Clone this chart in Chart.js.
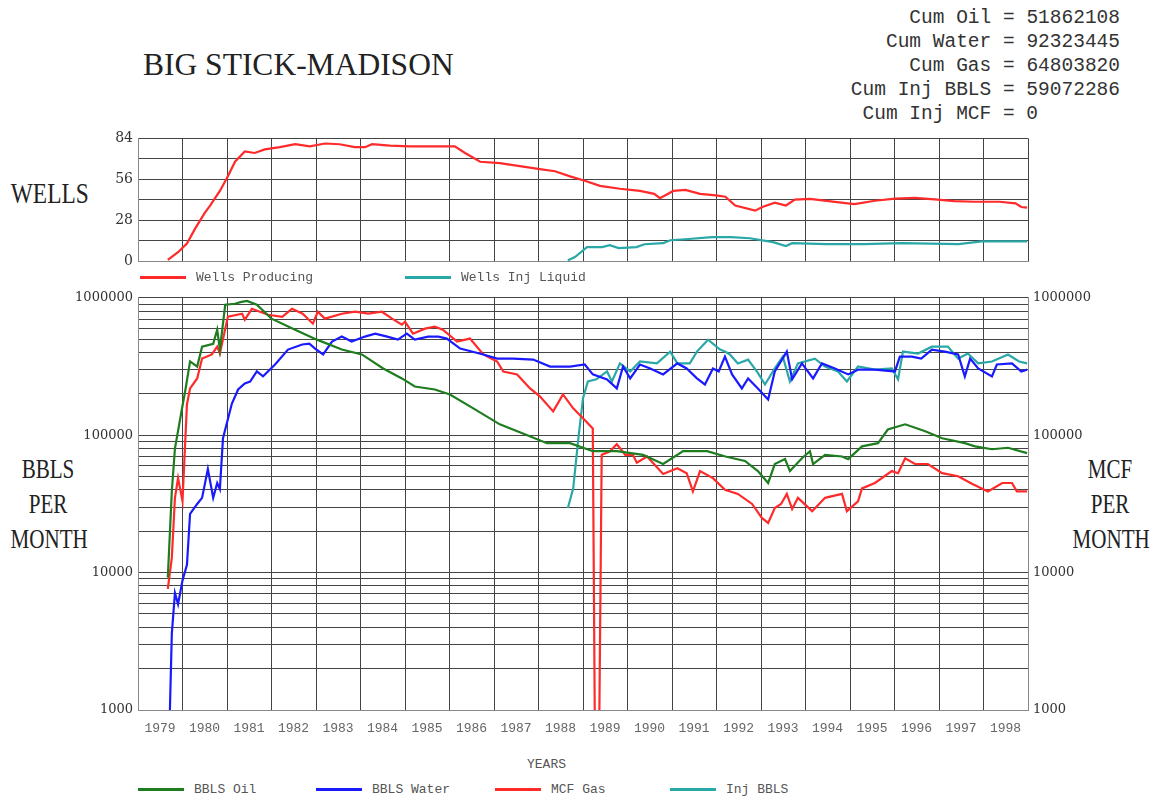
<!DOCTYPE html>
<html>
<head>
<meta charset="utf-8">
<script src="https://cdn.jsdelivr.net/npm/chart.js@4.4.0/dist/chart.umd.min.js"></script>
<style>
  body { margin: 0; background: #fff; width: 1158px; height: 799px; position: relative; overflow: hidden; }
  .t { position: absolute; white-space: pre; color: #222; }
  .serif { font-family: "Liberation Serif", serif; }
  .mono { font-family: "Liberation Mono", monospace; }
  .cond { transform: scaleX(0.78); transform-origin: center; text-align: center; }
  .leg { position: absolute; font-family: "Liberation Mono", monospace; font-size: 13px; color: #555; line-height: 16px; }
  .leg i { display: inline-block; width: 46px; height: 3px; vertical-align: middle; margin-right: 10px; }
  canvas { position: absolute; left: 0; }
</style>
</head>
<body>
<div class="t serif" style="left:143px; top:49px; font-size:31.5px; line-height:31px;">BIG STICK-MADISON</div>
<div class="t mono" style="right:38px; top:6px; font-size:19.5px; line-height:24px; text-align:right; color:#333;">Cum Oil = 51862108
Cum Water = 92323445
Cum Gas = 64803820
Cum Inj BBLS = 59072286
Cum Inj MCF = 0       </div>
<div class="t serif cond" style="left:0px; width:98px; top:178px; font-size:30px; line-height:30px;">WELLS</div>
<div class="t serif cond" style="left:0px; width:96px; top:452px; font-size:27px; line-height:35px;">BBLS
PER
MONTH</div>
<div class="t serif cond" style="left:1062px; width:96px; top:452px; font-size:27px; line-height:35px;">MCF
PER
MONTH</div>

<canvas id="wellsChart" width="1158" height="150" style="top:125px"></canvas>
<canvas id="prodChart" width="1158" height="460" style="top:285px"></canvas>

<div class="leg" style="left:140px; top:270px;"><i style="background:#ff2a2a"></i>Wells Producing</div>
<div class="leg" style="left:405px; top:270px;"><i style="background:#2aa8a8"></i>Wells Inj Liquid</div>
<div class="leg" style="left:527px; top:757px;">YEARS</div>
<div class="leg" style="left:138px; top:782px;"><i style="background:#1e7d1e"></i>BBLS Oil</div>
<div class="leg" style="left:316px; top:782px;"><i style="background:#1a1aff"></i>BBLS Water</div>
<div class="leg" style="left:495px; top:782px;"><i style="background:#ff2a2a"></i>MCF Gas</div>
<div class="leg" style="left:670px; top:782px;"><i style="background:#2aa8a8"></i>Inj BBLS</div>

<script>
// tick labels
const yearLabels = ["1979", "1980", "1981", "1982", "1983", "1984", "1985", "1986", "1987", "1988",
  "1989", "1990", "1991", "1992", "1993", "1994", "1995", "1996", "1997", "1998"];
const wellLabels = [0, 28, 56, 84];
const logLabels = [1000, 10000, 100000, 1000000];

// wells (top panel)
const prodWellsT = [1979.67, 1979.90, 1980.10, 1980.28, 1980.40, 1980.50, 1980.62, 1980.84, 1981.02, 1981.18,
  1981.40, 1981.62, 1981.85, 1982.19, 1982.53, 1982.86, 1983.20, 1983.53, 1983.87, 1984.10,
  1984.26, 1984.66, 1985.11, 1985.56, 1986.12, 1986.35, 1986.69, 1987.13, 1987.58, 1988.03,
  1988.37, 1988.71, 1989.04, 1989.38, 1989.83, 1990.28, 1990.60, 1990.73, 1991.03, 1991.30,
  1991.63, 1991.99, 1992.20, 1992.42, 1992.87, 1993.03, 1993.31, 1993.56, 1993.76, 1994.10,
  1994.66, 1995.10, 1995.56, 1996.01, 1996.46, 1996.90, 1997.35, 1997.81, 1998.36, 1998.72,
  1998.85, 1998.98];
const prodWells = [0.7, 6, 12, 22, 28, 33, 38, 48, 58, 68,
  75, 74, 76.5, 78, 80, 78.5, 80.5, 80, 78, 78,
  80, 79, 78.5, 78.5, 78.5, 74, 68, 67, 65, 63,
  61.5, 58, 55, 51.5, 49.5, 48, 46, 43, 48, 48.7,
  46, 45, 44, 38, 34.5, 37, 40, 38, 42, 42.5,
  40.5, 39, 41.3, 42.7, 43.3, 42.2, 41, 40.6, 40.6, 39.5,
  37, 36.6];
const injWellsT = [1988.66, 1988.82, 1989.09, 1989.43, 1989.60, 1989.80, 1990.20, 1990.38, 1990.80, 1990.96,
  1991.30, 1991.90, 1992.33, 1992.75, 1993.27, 1993.56, 1993.70, 1994.46, 1995.30, 1996.16,
  1997.44, 1997.96, 1998.98];
const injWells = [0.5, 2.7, 9.5, 9.5, 10.8, 8.8, 9.5, 11.5, 12.2, 14.2,
  14.9, 16.3, 16.3, 15.6, 12.9, 10.2, 12.2, 11.5, 11.5, 12.2,
  11.5, 13.5, 13.5];

// monthly volumes (bottom panel)
const oilT = [1979.67, 1979.76, 1979.83, 1979.99, 1980.06, 1980.17, 1980.33, 1980.44, 1980.69, 1980.78,
  1980.84, 1980.96, 1981.18, 1981.30, 1981.45, 1981.67, 1982.00, 1982.53, 1983.02, 1983.58,
  1984.03, 1984.51, 1984.93, 1985.22, 1985.67, 1986.01, 1986.46, 1987.13, 1987.65, 1988.19,
  1988.71, 1989.22, 1989.76, 1990.35, 1990.80, 1991.25, 1991.79, 1992.20, 1992.64, 1992.93,
  1993.16, 1993.31, 1993.54, 1993.65, 1993.92, 1994.10, 1994.17, 1994.44, 1994.82, 1994.96,
  1995.27, 1995.63, 1995.85, 1996.24, 1996.69, 1997.07, 1997.58, 1997.81, 1998.19, 1998.55,
  1998.98];
const oilBbls = [9200, 39000, 80000, 157000, 209000, 344000, 316000, 441000, 463000, 586000,
  420000, 890000, 905000, 930000, 950000, 890000, 705000, 586000, 496000, 420000,
  387000, 306000, 259000, 226000, 215000, 198000, 162000, 120000, 103000, 87500,
  87500, 76500, 76500, 72000, 61700, 76500, 76500, 70000, 65000, 54800,
  44900, 61700, 67000, 54800, 68000, 76500, 61700, 72000, 70000, 67000,
  83000, 87500, 110000, 120000, 107000, 95000, 87500, 83000, 79000, 81000,
  74000];
const waterT = [1979.70, 1979.76, 1979.83, 1979.90, 1980.00, 1980.10, 1980.17, 1980.33, 1980.44, 1980.57,
  1980.69, 1980.78, 1980.84, 1980.91, 1981.11, 1981.25, 1981.40, 1981.52, 1981.67, 1981.81,
  1982.08, 1982.37, 1982.69, 1982.85, 1982.98, 1983.16, 1983.36, 1983.58, 1983.80, 1984.10,
  1984.33, 1984.60, 1984.84, 1985.04, 1985.22, 1985.52, 1985.75, 1985.94, 1986.24, 1986.76,
  1987.07, 1987.43, 1987.88, 1988.26, 1988.71, 1989.04, 1989.22, 1989.54, 1989.76, 1989.90,
  1990.06, 1990.28, 1990.51, 1990.80, 1991.12, 1991.33, 1991.56, 1991.74, 1991.92, 1992.05,
  1992.19, 1992.35, 1992.57, 1992.71, 1992.93, 1993.16, 1993.31, 1993.58, 1993.70, 1993.92,
  1994.17, 1994.37, 1994.66, 1994.96, 1995.18, 1995.56, 1996.01, 1996.12, 1996.39, 1996.60,
  1996.84, 1997.13, 1997.43, 1997.58, 1997.70, 1997.88, 1998.19, 1998.30, 1998.64, 1998.85,
  1998.98];
const waterBbls = [600, 3600, 7100, 5900, 8750, 11400, 26800, 31600, 35000, 56700,
  35000, 44900, 40500, 95000, 170000, 215000, 238000, 246000, 291000, 268000,
  327000, 420000, 457000, 463000, 427000, 387000, 480000, 522000, 480000, 522000,
  548000, 522000, 496000, 548000, 496000, 522000, 522000, 505000, 427000, 387000,
  361000, 361000, 355000, 316000, 316000, 327000, 277000, 255000, 219000, 316000,
  259000, 327000, 306000, 277000, 333000, 306000, 259000, 234000, 306000, 291000,
  373000, 277000, 219000, 259000, 219000, 182000, 291000, 406000, 255000, 333000,
  259000, 333000, 306000, 277000, 300000, 300000, 291000, 373000, 373000, 361000,
  420000, 406000, 387000, 268000, 361000, 306000, 268000, 327000, 333000, 291000,
  300000];
const gasT = [1979.67, 1979.76, 1979.83, 1979.90, 1980.00, 1980.10, 1980.17, 1980.33, 1980.44, 1980.66,
  1980.78, 1980.84, 1981.02, 1981.34, 1981.40, 1981.56, 1981.92, 1982.24, 1982.46, 1982.70,
  1982.93, 1983.04, 1983.20, 1983.58, 1983.88, 1984.17, 1984.48, 1984.71, 1984.93, 1985.00,
  1985.18, 1985.45, 1985.67, 1985.85, 1986.17, 1986.46, 1986.76, 1987.07, 1987.21, 1987.52,
  1987.81, 1988.03, 1988.33, 1988.55, 1988.78, 1989.00, 1989.22, 1989.27, 1989.36, 1989.42,
  1989.60, 1989.76, 1989.95, 1990.12, 1990.21, 1990.44, 1990.80, 1991.12, 1991.33, 1991.47,
  1991.63, 1991.92, 1992.19, 1992.48, 1992.80, 1993.02, 1993.16, 1993.31, 1993.45, 1993.58,
  1993.70, 1993.83, 1994.15, 1994.44, 1994.82, 1994.93, 1995.18, 1995.27, 1995.56, 1995.94,
  1996.08, 1996.24, 1996.46, 1996.75, 1997.07, 1997.43, 1997.74, 1998.10, 1998.42, 1998.64,
  1998.75, 1998.98];
const gasMcf = [7600, 12800, 35000, 48700, 33200, 168000, 219000, 259000, 361000, 387000,
  441000, 393000, 728000, 766000, 693000, 832000, 753000, 728000, 832000, 766000,
  648000, 792000, 705000, 766000, 792000, 766000, 792000, 705000, 637000, 670000,
  548000, 596000, 616000, 586000, 480000, 505000, 387000, 344000, 291000, 277000,
  219000, 192000, 149000, 198000, 157000, 133000, 112000, 500, 500, 72000,
  76000, 86000, 72000, 72000, 63000, 70000, 52200, 57400, 52900, 39000,
  54800, 48700, 40000, 37400, 31600, 25000, 23000, 29500, 31600, 37400,
  29000, 35000, 28000, 35000, 37400, 28000, 33000, 41000, 44900, 54800,
  52900, 68000, 61700, 61700, 52900, 50300, 44300, 39000, 44900, 44900,
  39000, 39000];
const injT = [1988.66, 1988.78, 1988.89, 1989.00, 1989.11, 1989.30, 1989.54, 1989.65, 1989.83, 1990.06,
  1990.28, 1990.66, 1990.96, 1991.12, 1991.40, 1991.56, 1991.81, 1992.08, 1992.19, 1992.30,
  1992.48, 1992.71, 1992.93, 1993.09, 1993.31, 1993.49, 1993.65, 1993.83, 1994.21, 1994.44,
  1994.73, 1994.93, 1995.18, 1995.56, 1995.94, 1996.08, 1996.19, 1996.53, 1996.84, 1997.20,
  1997.43, 1997.65, 1997.88, 1998.19, 1998.55, 1998.80, 1998.98];
const injBbls = [29500, 41000, 91000, 186000, 246000, 255000, 291000, 246000, 333000, 291000,
  344000, 333000, 406000, 333000, 333000, 406000, 496000, 420000, 406000, 387000,
  333000, 355000, 284000, 234000, 306000, 373000, 246000, 333000, 361000, 316000,
  291000, 246000, 316000, 300000, 306000, 255000, 406000, 393000, 441000, 441000,
  361000, 393000, 333000, 344000, 387000, 344000, 333000];

const GRID = "#444";
const RED = "#ff2a2a", GREEN = "#1e7d1e", BLUE = "#1a1aff", TEAL = "#2aa8a8";

const pts = (xs, ys) => xs.map((x, i) => ({ x: x, y: ys[i] }));
const yearStarts = yearLabels.map(Number).concat([Number(yearLabels[yearLabels.length - 1]) + 1]);
let logGrid = [];
for (let d = 1000; d < 1000000; d *= 10) {
  for (let m = 1; m < 10; m++) logGrid.push(m * d);
}
logGrid.push(1000000);

const line = (label, data, color, axis) => ({
  label: label, data: data, borderColor: color, backgroundColor: color,
  borderWidth: 2.2, pointRadius: 0, tension: 0, fill: false, yAxisID: axis || "y"
});

const xGrid = (showLabels) => ({
  type: "linear", min: 1979, max: 1999,
  afterBuildTicks: (ax) => { ax.ticks = yearStarts.map((v) => ({ value: v })); },
  grid: { color: GRID, drawTicks: false },
  border: { color: "#888" },
  ticks: {
    display: showLabels, autoSkip: false, maxRotation: 0, labelOffset: 22, padding: 11,
    font: { family: "Liberation Mono", size: 13 }, color: "#666",
    callback: (v, i) => yearLabels[i] || ""
  },
  afterFit: (s) => { s.height = showLabels ? 35 : 0; }
});

const logAxis = (pos) => ({
  type: "logarithmic", min: 1000, max: 1000000, position: pos,
  afterBuildTicks: (ax) => { ax.ticks = logGrid.map((v) => ({ value: v })); },
  grid: { display: pos === "left", color: GRID, drawTicks: false },
  border: { color: "#888" },
  ticks: {
    autoSkip: false, padding: 5, font: { family: "DejaVu Serif", size: 13 }, color: "#333",
    callback: (v) => (logLabels.includes(v) ? String(v) : "")
  },
  afterFit: (s) => { s.width = pos === "left" ? 138 : 130; }
});

new Chart(document.getElementById("wellsChart"), {
  type: "line",
  data: {
    datasets: [
      line("Wells Producing", pts(prodWellsT, prodWells), RED),
      line("Wells Inj Liquid", pts(injWellsT, injWells), TEAL)
    ]
  },
  options: {
    responsive: false, animation: false, devicePixelRatio: 1,
    layout: { padding: { left: 0, right: 130, top: 12, bottom: 14 } },
    plugins: { legend: { display: false }, tooltip: { enabled: false } },
    scales: {
      x: xGrid(false),
      y: {
        min: 0, max: 84,
        afterBuildTicks: (ax) => { ax.ticks = [0, 14, 28, 42, 56, 70, 84].map((v) => ({ value: v })); },
        grid: { color: GRID, drawTicks: false },
        border: { color: "#888" },
        ticks: {
          autoSkip: false, padding: 5, font: { family: "DejaVu Serif", size: 14 }, color: "#333",
          callback: (v) => (wellLabels.includes(v) ? String(v) : "")
        },
        afterFit: (s) => { s.width = 138; }
      }
    }
  }
});

new Chart(document.getElementById("prodChart"), {
  type: "line",
  data: {
    datasets: [
      line("BBLS Oil", pts(oilT, oilBbls), GREEN),
      line("BBLS Water", pts(waterT, waterBbls), BLUE),
      line("MCF Gas", pts(gasT, gasMcf), RED),
      line("Inj BBLS", pts(injT, injBbls), TEAL)
    ]
  },
  options: {
    responsive: false, animation: false, devicePixelRatio: 1,
    layout: { padding: { left: 0, right: 0, top: 11, bottom: 0 } },
    plugins: { legend: { display: false }, tooltip: { enabled: false } },
    scales: {
      x: xGrid(true),
      y: logAxis("left"),
      y2: logAxis("right")
    }
  }
});
</script>
</body>
</html>
